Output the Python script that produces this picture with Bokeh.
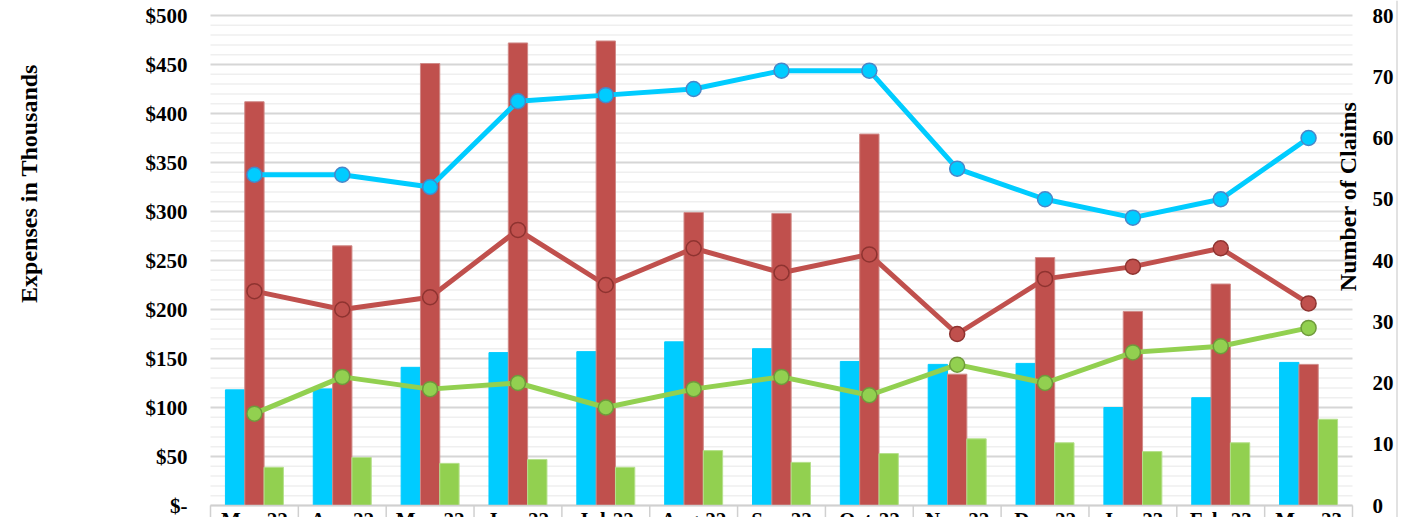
import math

from bokeh.core.properties import value
from bokeh.embed import file_html
from bokeh.models import FixedTicker, LinearAxis, Range1d, Span
from bokeh.plotting import figure
from bokeh.resources import INLINE

# ---- data -------------------------------------------------------------
months = ["Mar-22", "Apr-22", "May-22", "Jun-22", "Jul-22", "Aug-22", "Sep-22",
          "Oct-22", "Nov-22", "Dec-22", "Jan-23", "Feb-23", "Mar-23"]

# expenses, $ thousands (bars, left axis)
expenses_a = [118, 119, 141, 156, 157, 167, 160, 147, 144, 145, 100, 110, 146]
expenses_b = [412, 265, 451, 472, 474, 299, 298, 379, 134, 253, 198, 226, 144]
expenses_c = [39, 49, 43, 47, 39, 56, 44, 53, 68, 64, 55, 64, 88]

# number of claims (lines, right axis)
claims_a = [54, 54, 52, 66, 67, 68, 71, 71, 55, 50, 47, 50, 60]
claims_b = [35, 32, 34, 45, 36, 42, 38, 41, 28, 37, 39, 42, 33]
claims_c = [15, 21, 19, 20, 16, 19, 21, 18, 23, 20, 25, 26, 29]

expense_ticks = list(range(0, 501, 50))
expense_tick_labels = ["$-"] + ["$" + str(v) for v in expense_ticks[1:]]
expense_minor = [v for v in range(0, 501, 10) if v % 50]
claim_ticks = list(range(0, 81, 10))

# ---- geometry ---------------------------------------------------------
W, H = 1398, 517
PLOT_L, PLOT_R, PLOT_T, PLOT_B = 210, 1352, 15, 505   # plotting area in px
n = len(months)
x_px = (PLOT_R - PLOT_L) / n            # px per category
yl_px = (PLOT_B - PLOT_T) / 500         # px per $1k
yr_px = (PLOT_B - PLOT_T) / 80          # px per claim


def px_to_x(px):
    return -0.5 + (px - PLOT_L) / x_px


def px_to_yl(py):
    return (PLOT_B - py) / yl_px


# ---- styling ----------------------------------------------------------
BLUE, RED, GREEN = "#00CCFF", "#C0504D", "#92D050"
SERIF = "Liberation Serif"
FONT = value(SERIF)
TICK_SIZE = "21px"
TITLE_SIZE = "24px"

idx = list(range(n))
bar_w = 0.22

p = figure(
    width=W, height=H,
    x_range=Range1d(px_to_x(0), px_to_x(W)),
    y_range=Range1d(px_to_yl(H), px_to_yl(0)),
    x_axis_location=None, y_axis_location=None,
    output_backend="svg", toolbar_location=None,
    min_border=0, outline_line_color=None,
    background_fill_color="white", border_fill_color="white",
)
p.xgrid.visible = False
p.ygrid.visible = False
p.extra_y_ranges = {"claims": Range1d((PLOT_B - H) / yr_px, (PLOT_B - 0) / yr_px)}

# horizontal gridlines across the plotting area
p.segment(x0=[-0.5] * len(expense_minor), y0=expense_minor,
          x1=[n - 0.5] * len(expense_minor), y1=expense_minor,
          line_color="#efefef", line_width=1.5)
p.segment(x0=[-0.5] * len(expense_ticks), y0=expense_ticks,
          x1=[n - 0.5] * len(expense_ticks), y1=expense_ticks,
          line_color="#d6d6d6", line_width=2)


def style_axis(ax, standoff):
    ax.axis_line_color = None
    ax.major_tick_line_color = None
    ax.minor_tick_line_color = None
    ax.major_tick_out = 0
    ax.major_tick_in = 0
    ax.major_label_standoff = standoff
    ax.major_label_text_font = SERIF
    ax.major_label_text_font_style = "bold"
    ax.major_label_text_font_size = TICK_SIZE
    ax.major_label_text_color = "black"


# left axis (expenses)
yax = LinearAxis(ticker=FixedTicker(ticks=expense_ticks), fixed_location=-0.5)
yax.major_label_overrides = dict(zip(expense_ticks, expense_tick_labels))
style_axis(yax, 23)
p.add_layout(yax, "left")

# right axis (claims)
rax = LinearAxis(y_range_name="claims", ticker=FixedTicker(ticks=claim_ticks),
                 fixed_location=n - 0.5)
style_axis(rax, 20)
p.add_layout(rax, "right")

# bars
p.vbar(x=[i - bar_w for i in idx], top=expenses_a, width=bar_w,
       fill_color=BLUE, line_color=BLUE)
p.vbar(x=idx, top=expenses_b, width=bar_w,
       fill_color=RED, line_color="#d08a88", line_width=1)
p.vbar(x=[i + bar_w for i in idx], top=expenses_c, width=bar_w,
       fill_color=GREEN, line_color="#b5e08c", line_width=1)

# category strip along the bottom
bounds = [i - 0.5 for i in range(n + 1)]
p.segment(x0=[-0.5], y0=[0], x1=[n - 0.5], y1=[0], line_color="#d0d0d0", line_width=1.5)
p.segment(x0=bounds, y0=[0] * len(bounds), x1=bounds, y1=[px_to_yl(H)] * len(bounds),
          line_color="#d0d0d0", line_width=1.5)
p.text(x=idx, y=[px_to_yl(PLOT_B + 2)] * n, text=months, text_align="center",
       text_baseline="top", text_font=FONT, text_font_style="bold",
       text_font_size=TICK_SIZE, text_color="black")

# claim lines
for ys, col, edge in ((claims_a, BLUE, "#4a86c8"),
                      (claims_b, RED, "#8e3330"),
                      (claims_c, GREEN, "#6f9a3c")):
    p.line(x=idx, y=ys, y_range_name="claims", line_color=col, line_width=5)
    p.scatter(x=idx, y=ys, y_range_name="claims", size=15, marker="circle",
              fill_color=col, line_color=edge, line_width=1.5)

# axis titles
p.text(x=[px_to_x(28)], y=[px_to_yl(183)], text=["Expenses in Thousands"],
       angle=math.pi / 2, text_align="center", text_baseline="middle",
       text_font=FONT, text_font_style="bold", text_font_size=TITLE_SIZE,
       text_color="black")
p.text(x=[px_to_x(1347)], y=[px_to_yl(196)], text=["Number of Claims"],
       angle=math.pi / 2, text_align="center", text_baseline="middle",
       text_font=FONT, text_font_style="bold", text_font_size=TITLE_SIZE,
       text_color="black")

# chart-area edge on the right
p.add_layout(Span(location=px_to_x(W - 1.5), dimension="height",
                  line_color="#d9d9d9", line_width=1.5))

open("out.html", "w").write(file_html(p, INLINE))
